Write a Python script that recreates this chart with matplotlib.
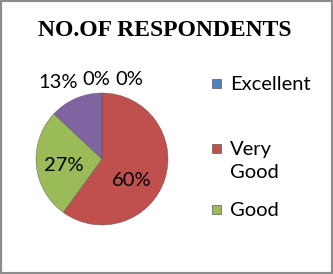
import numpy as np
import matplotlib
matplotlib.use("Agg")
import matplotlib.pyplot as plt
from matplotlib.patches import Rectangle

categories = ["Excellent", "Very Good", "Good", "Average", "Poor"]
values = [0, 60, 27, 13, 0]
colors = ["#4F81BD", "#C0504D", "#9BBB59", "#8064A2", "#4BACC6"]
legend_labels = ["Excellent", "Very", "Good", "Good"]

W, H = 333, 274
fig = plt.figure(figsize=(W / 100, H / 100), dpi=100)
fig.patch.set_facecolor("white")
fig.patches.append(Rectangle((0, 0), 1, 1, transform=fig.transFigure, fill=False,
                             edgecolor="#8c8c8c", linewidth=3, zorder=10))

cx, cy, r = 102, 159, 66
ax = fig.add_axes([(cx - r) / W, (H - cy - r) / H, 2 * r / W, 2 * r / H])
wedges, texts, autotexts = ax.pie(values, colors=colors, startangle=90, counterclock=False,
                                  autopct="%1.0f%%", pctdistance=0.56,
                                  wedgeprops=dict(edgecolor="#5a5a5a", linewidth=0.3),
                                  textprops=dict(fontsize=14.5, family="Lato", color="black"))
ax.set_xlim(-1, 1)
ax.set_ylim(-1, 1)
ax.set_aspect("equal")

pos = {0: (0.42, 1.2), 3: (-0.67, 1.16), 4: (-0.08, 1.2)}
for i, t in enumerate(autotexts):
    if i in pos:
        t.set_position(pos[i])
autotexts[1].set_position((0.45, -0.32))
autotexts[2].set_position((-0.58, -0.1))

fig.text(165 / W, 1 - 30 / H, "NO.OF RESPONDENTS", ha="center", va="center",
         fontsize=17, fontweight="bold", family="Liberation Serif")

# legend (first three entries visible)
sq = [(colors[0], 83), (colors[1], 148), (colors[2], 209)]
for col, y in sq:
    fig.patches.append(Rectangle((212 / W, 1 - (y + 4.5) / H), 9 / W, 9 / H,
                                 transform=fig.transFigure, facecolor=col,
                                 edgecolor="#5a5a5a", linewidth=0.5))
for lab, y in zip(legend_labels, [84, 149, 173, 210]):
    fig.text(230 / W, 1 - y / H, lab, ha="left", va="center",
             fontsize=14.5, family="Lato")

fig.savefig("out.png", dpi=100)
